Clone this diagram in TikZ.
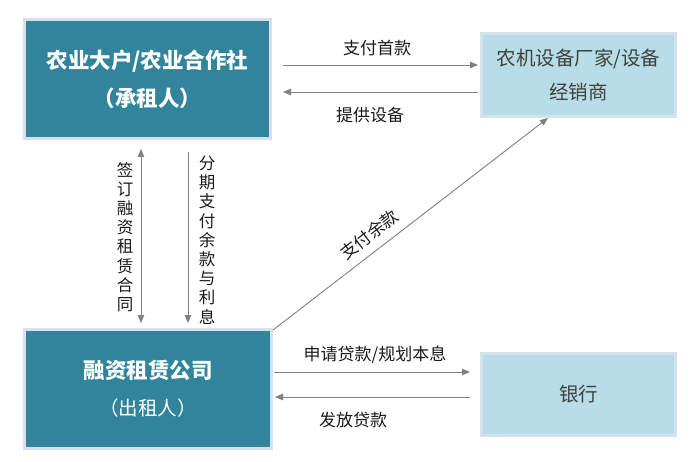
\documentclass[tikz,border=0pt]{standalone}
\usepackage{fontspec}
\setmainfont{Noto Sans CJK SC}
\usetikzlibrary{arrows.meta,calc}
\definecolor{darkbox}{HTML}{31849B}
\definecolor{lightbox}{HTML}{B7DDE8}
\definecolor{boxrim}{HTML}{D7E1EE}
\definecolor{arrowgray}{HTML}{808080}
\definecolor{textgray}{HTML}{404040}
\definecolor{labelcol}{HTML}{1A1A1A}
\tikzset{
  darknode/.style={draw=boxrim, line width=3pt, fill=darkbox, text=white, align=center, inner sep=0pt},
  lightnode/.style={draw=boxrim, line width=3pt, fill=lightbox, text=textgray, align=center, inner sep=0pt,
    font=\fontsize{19.5}{34}\selectfont},
  arr/.style={draw=arrowgray, line width=0.9pt, -{Triangle[length=8pt,width=6.5pt]}},
  darr/.style={draw=arrowgray, line width=0.9pt, {Triangle[length=8pt,width=6.5pt]}-{Triangle[length=8pt,width=6.5pt]}},
  lbl/.style={text=labelcol, inner sep=0pt, font=\fontsize{17}{20}\selectfont},
  vtext/.style={text=labelcol, inner sep=0pt, align=center, font=\fontsize{16.5}{19.2}\selectfont},
}
\begin{document}
\begin{tikzpicture}[x=1pt,y=-1pt]
\useasboundingbox (0,0) rectangle (695,462);
% boxes
\node[darknode, minimum width=246pt, minimum height=119pt, font=\fontsize{21.5}{38}\selectfont\bfseries] (b1) at (147.5,79)
  {农业大户/农业合作社\\（承租人）};
\node[lightnode, minimum width=194pt, minimum height=83pt] (b2) at (578.5,75)
  {农机设备厂家/设备\\经销商};
\node[darknode, minimum width=247pt, minimum height=119pt, font=\fontsize{21.5}{37}\selectfont] (b3) at (148,389)
  {{\bfseries 融资租赁公司}\\{\fontsize{19.5}{37}\selectfont （出租人）}};
\node[lightnode, minimum width=194pt, minimum height=82pt] (b4) at (578.5,394.5)
  {银行};
% helper coordinates
\coordinate (ya) at (0,65);
\coordinate (yb) at (0,92);
\coordinate (yc) at (0,372);
\coordinate (yd) at (0,397);
\coordinate (xv1) at (141,0);
\coordinate (xv2) at (188,0);
% top arrows
\draw[arr] ([xshift=11pt]b1.east |- ya) -- ([xshift=-2pt]b2.west |- ya);
\draw[arr] ([xshift=-2pt]b2.west |- yb) -- ([xshift=11pt]b1.east |- yb);
\node[lbl] (l1) at (377,48) {支付首款};
\node[lbl] (l2) at (370,115) {提供设备};
% vertical arrows
\draw[darr] ([yshift=-9pt]b1.south -| xv1) -- ([yshift=5pt]b3.north -| xv1);
\draw[arr] ([yshift=-12pt]b1.south -| xv2) -- ([yshift=5pt]b3.north -| xv2);
\node[vtext] (v1) at (125,237) {签\\订\\融\\资\\租\\赁\\合\\同};
\node[vtext] (v2) at (207,240) {分\\期\\支\\付\\余\\款\\与\\利\\息};
% diagonal
\coordinate (dtip) at ($(b2.south west)!0.345!(b2.south east)$);
\draw[arr] ([yshift=-2pt]b3.north east) -- node[pos=0.387, sloped, above=17pt, lbl, anchor=center] (l3) {支付余款} (dtip);
% bottom arrows
\draw[arr] ([xshift=1pt]b3.east |- yc) -- ([xshift=-10pt]b4.west |- yc);
\draw[arr] ([xshift=-10pt]b4.west |- yd) -- ([xshift=2pt]b3.east |- yd);
\node[lbl] (l4) at (375,355) {申请贷款/规划本息};
\node[lbl] (l5) at (353,420) {发放贷款};
\end{tikzpicture}
\end{document}
